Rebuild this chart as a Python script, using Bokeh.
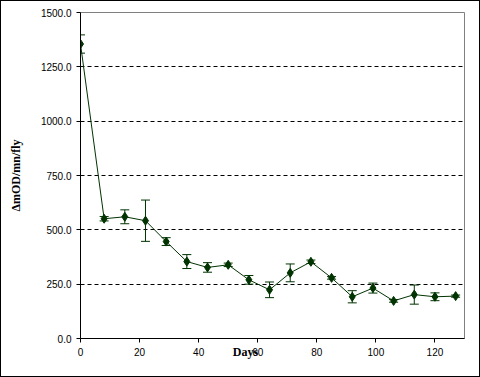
from bokeh.plotting import figure
from bokeh.models import (ColumnDataSource, FixedTicker, NumeralTickFormatter,
                          Whisker, TeeHead, Range1d)
from bokeh.embed import file_html
from bokeh.resources import INLINE

days = [0, 8, 15, 22, 29, 36, 43, 50, 57, 64, 71, 78, 85, 92, 99, 106, 113, 120, 127]
mean = [1355, 551, 560, 542, 446, 354, 327, 339, 270, 224, 302, 353, 279, 192, 232, 173, 202, 192, 195]
err = [42, 10, 32, 95, 18, 32, 22, 8, 20, 36, 41, 8, 6, 28, 23, 6, 44, 18, 5]
x_ticks = [0, 20, 40, 60, 80, 100, 120]
y_ticks = [0, 250, 500, 750, 1000, 1250, 1500]
grid_ticks = [250, 500, 750, 1000, 1250]
x_label = "Days"
y_label = "\u0394mOD/mn/fly"

GREEN = "#003300"

src = ColumnDataSource(dict(
    x=days, y=mean,
    upper=[m + e for m, e in zip(mean, err)],
    lower=[m - e for m, e in zip(mean, err)],
))

p = figure(width=480, height=377, output_backend="svg", toolbar_location=None,
           x_range=Range1d(0, 130), y_range=Range1d(0, 1500),
           min_border_left=80, min_border_right=16, min_border_top=12, min_border_bottom=39)
p.background_fill_color = "white"
p.border_fill_color = None
p.outline_line_color = "#808080"
p.outline_line_width = 1
p.styles = {"background-color": "white", "box-shadow": "inset 0 0 0 1px black"}

p.xgrid.visible = False
p.ygrid.ticker = FixedTicker(ticks=grid_ticks)
p.ygrid.grid_line_color = "black"
p.ygrid.grid_line_dash = "4 3"
p.ygrid.grid_line_width = 1

for ax in (p.xaxis[0], p.yaxis[0]):
    ax.axis_line_color = "black"
    ax.major_tick_line_color = "black"
    ax.major_tick_out = 4
    ax.major_tick_in = 0
    ax.minor_tick_line_color = None
    ax.major_label_text_font = "Liberation Sans"
    ax.major_label_text_font_size = "10px"
    ax.major_label_text_color = "black"
    ax.major_label_standoff = 5
    ax.axis_label_text_font = "Liberation Serif"
    ax.axis_label_text_font_style = "bold"
    ax.axis_label_text_font_size = "12px"
    ax.axis_label_text_color = "black"

p.xaxis[0].ticker = FixedTicker(ticks=x_ticks)
p.yaxis[0].ticker = FixedTicker(ticks=y_ticks)
p.yaxis[0].formatter = NumeralTickFormatter(format="0.0")

p.yaxis[0].axis_label = y_label
p.yaxis[0].axis_label_standoff = 15

p.xaxis[0].axis_label = x_label + "\u00a0" * 18
p.xaxis[0].axis_label_standoff = -14

p.line("x", "y", source=src, line_color=GREEN, line_width=1)
w = Whisker(source=src, base="x", upper="upper", lower="lower",
            line_color=GREEN, line_width=1,
            upper_head=TeeHead(size=9, line_color=GREEN, line_width=1),
            lower_head=TeeHead(size=9, line_color=GREEN, line_width=1))
p.add_layout(w)
p.scatter("x", "y", source=src, marker="diamond", size=9,
          fill_color=GREEN, line_color=GREEN)

open("out.html", "w").write(file_html(p, INLINE))
